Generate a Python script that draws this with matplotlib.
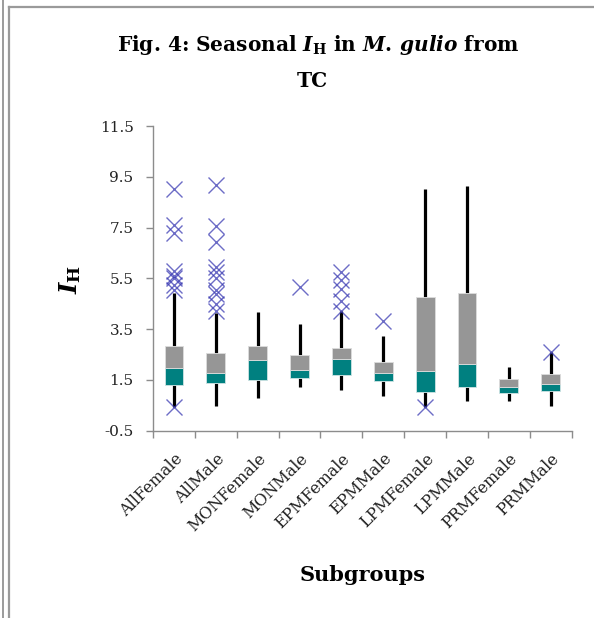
import matplotlib
matplotlib.use("Agg")
import matplotlib.pyplot as plt
from matplotlib.lines import Line2D
import numpy as np

plt.rcParams['font.family'] = ['DejaVu Serif']
plt.rcParams['mathtext.fontset'] = 'custom'
plt.rcParams['mathtext.it'] = 'DejaVu Serif:italic:bold'
plt.rcParams['mathtext.rm'] = 'DejaVu Serif:bold'
plt.rcParams['mathtext.bf'] = 'DejaVu Serif:bold'

# five-number summaries per subgroup
categories = ['AllFemale', 'AllMale', 'MONFemale', 'MONMale', 'EPMFemale',
              'EPMMale', 'LPMFemale', 'LPMMale', 'PRMFemale', 'PRMMale']
whisker_lo = [0.45, 0.47, 0.78, 1.23, 1.10, 0.88, 0.45, 0.68, 0.67, 0.47]
q1 = [1.30, 1.39, 1.48, 1.59, 1.69, 1.46, 1.01, 1.23, 1.00, 1.07]
median = [1.98, 1.78, 2.28, 1.89, 2.32, 1.76, 1.86, 2.13, 1.21, 1.33]
q3 = [2.83, 2.57, 2.83, 2.48, 2.77, 2.19, 4.78, 4.93, 1.55, 1.72]
whisker_hi = [4.93, 4.15, 4.16, 3.69, 4.22, 3.23, 9.02, 9.13, 2.02, 2.61]

# outlying values per subgroup
outliers_allfemale = [9.0, 7.6, 7.3, 5.8, 5.6, 5.5, 5.25, 5.05, 0.42]
outliers_allmale = [9.17, 7.55, 6.95, 5.95, 5.75, 5.5, 5.05, 4.9, 4.5, 4.2]
outliers_monmale = [5.17]
outliers_epmfemale = [5.75, 5.45, 5.1, 4.6, 4.2]
outliers_epmmale = [3.82]
outliers_lpmfemale = [0.45]
outliers_prmmale = [2.61]

outliers = {
    'AllFemale': outliers_allfemale,
    'AllMale': outliers_allmale,
    'MONMale': outliers_monmale,
    'EPMFemale': outliers_epmfemale,
    'EPMMale': outliers_epmmale,
    'LPMFemale': outliers_lpmfemale,
    'PRMMale': outliers_prmmale,
}

fig = plt.figure(figsize=(5.94, 6.18), dpi=100)
ax = fig.add_axes([0.2576, 0.3031, 0.9625 - 0.2576, 0.7961 - 0.3031])

x = np.arange(len(categories))
lo = np.array(whisker_lo)
b1 = np.array(q1)
md = np.array(median)
b3 = np.array(q3)
hi = np.array(whisker_hi)

width = 0.45
ax.vlines(x, lo, b1, color='black', linewidth=2.3, zorder=1)
ax.vlines(x, b3, hi, color='black', linewidth=2.3, zorder=1)
ax.bar(x, md - b1, width, bottom=b1, color='#008080',
       edgecolor='#cfe3e3', linewidth=0.6, zorder=2)
ax.bar(x, b3 - md, width, bottom=md, color='#969696',
       edgecolor='#dcdcdc', linewidth=0.6, zorder=2)

for i, cat in enumerate(categories):
    vals = outliers.get(cat, [])
    if vals:
        ax.plot([i] * len(vals), vals, linestyle='none', marker='x',
                markersize=11, markeredgewidth=1.0, color='#3c3cb4',
                alpha=0.75, zorder=3)

ax.set_xlim(-0.5, len(categories) - 0.5)
ax.set_ylim(-0.5, 11.5)
ax.set_yticks(np.arange(-0.5, 11.6, 2))
ax.set_yticklabels(['-0.5', '1.5', '3.5', '5.5', '7.5', '9.5', '11.5'])
ax.set_xticks(x)
ax.set_xticklabels(categories, rotation=45, ha='right', rotation_mode='anchor')
ax.set_xticks(np.arange(-0.5, len(categories), 1), minor=True)

for side in ['top', 'right']:
    ax.spines[side].set_visible(False)
for side in ['left', 'bottom']:
    ax.spines[side].set_color('#8c8c8c')
    ax.spines[side].set_linewidth(1.0)

ax.tick_params(axis='y', direction='out', length=5, width=1, color='#8c8c8c',
               labelsize=11, pad=9, labelcolor='#222222')
ax.tick_params(axis='x', which='major', length=0, labelsize=11.5, pad=14,
               labelcolor='#222222')
ax.tick_params(axis='x', which='minor', direction='out', length=5, width=1,
               color='#8c8c8c')

fig.text(0.535, 0.927,
         r'Fig. 4: Seasonal $I_{\mathrm{H}}$ in $\mathit{M.\,gulio}$ from',
         ha='center', va='center', fontsize=14.5, fontweight='bold')
fig.text(0.525, 0.869, 'TC', ha='center', va='center', fontsize=14.5,
         fontweight='bold')
fig.text(0.118, 0.548, r'$I_{\mathrm{H}}$', ha='center', va='center',
         rotation=90, fontsize=17.5)
fig.text(0.61, 0.07, 'Subgroups', ha='center', va='center', fontsize=15,
         fontweight='bold')

# chart frame
frame = dict(color='#9a9a9a', linewidth=1.6, transform=fig.transFigure)
fig.add_artist(Line2D([9 / 594, 1.0], [1 - 7 / 618, 1 - 7 / 618], **frame))
fig.add_artist(Line2D([9 / 594, 9 / 594], [0.0, 1 - 7 / 618], **frame))
fig.add_artist(Line2D([2.5 / 594, 2.5 / 594], [0.0, 1.0], color='#8a8a8a',
                      linewidth=1.2, transform=fig.transFigure))

fig.savefig('out.png', dpi=100)
